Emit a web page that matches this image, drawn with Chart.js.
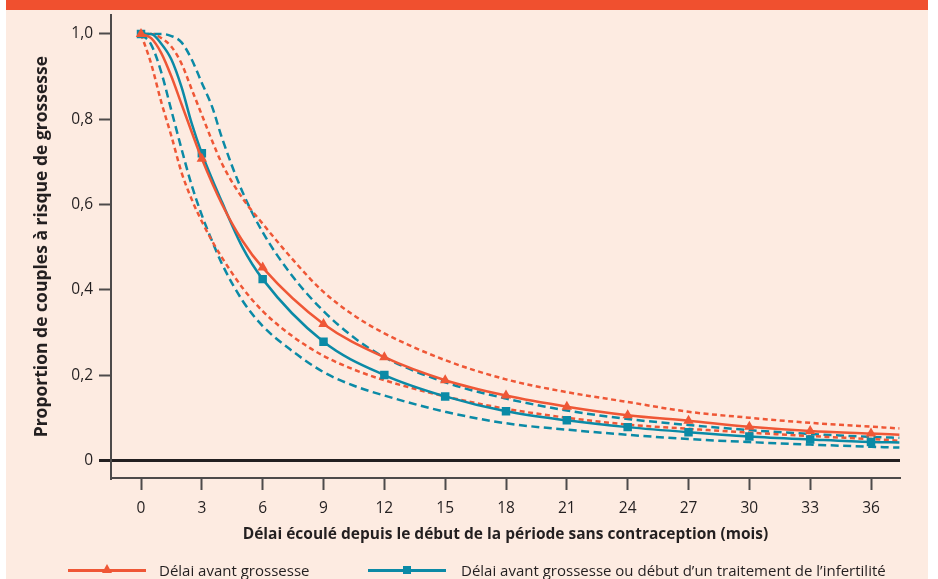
<!DOCTYPE html>
<html lang="fr">
<head>
<meta charset="utf-8">
<script src="https://cdn.jsdelivr.net/npm/chart.js@4.4.0/dist/chart.umd.min.js"></script>
<style>
  html, body { margin: 0; padding: 0; background: #fff; }
  #wrap { position: relative; width: 938px; height: 579px; overflow: hidden; }
  #panel { position: absolute; left: 6px; top: 0; width: 922px; height: 579px; background: #fdebe1; }
  #band { position: absolute; left: 6px; top: 0; width: 922px; height: 10px; background: #f0502f; }
  #chart { position: absolute; left: 0; top: 0; }
  .lg-line { position: absolute; height: 3px; }
  .lg-tri { position: absolute; width: 0; height: 0; border-left: 5px solid transparent; border-right: 5px solid transparent; border-bottom: 9px solid #ef5736; }
  .lg-sq { position: absolute; width: 8px; height: 8px; background: #0b8aa6; }
  .lg-text { position: absolute; top: 560px; line-height: 20px; font: 15px "Open Sans", sans-serif; color: #231f20; white-space: nowrap; }
</style>
</head>
<body>
<div id="wrap">
  <div id="panel"></div>
  <div id="band"></div>
  <canvas id="chart" width="938" height="579"></canvas>
  <div class="lg-line" style="left:68px;top:569px;width:78px;background:#ef5736"></div>
  <div class="lg-tri" style="left:102px;top:564px"></div>
  <div class="lg-text" style="left:159px">Délai avant grossesse</div>
  <div class="lg-line" style="left:368px;top:569px;width:78px;background:#0b8aa6"></div>
  <div class="lg-sq" style="left:403px;top:566px"></div>
  <div class="lg-text" style="left:461px">Délai avant grossesse ou début d’un traitement de l’infertilité</div>
</div>
<script>
const RED = '#ef5736';
const BLUE = '#0b8aa6';
const INK = '#231f20';
const AXIS = '#4d4a4a';
const FONT = '"Open Sans", sans-serif';

// axes
const monthTicks = [0, 3, 6, 9, 12, 15, 18, 21, 24, 27, 30, 33, 36];
const valueTicks = [0, 0.2, 0.4, 0.6, 0.8, 1.0];
const valueLabels = ['0', '0,2', '0,4', '0,6', '0,8', '1,0'];

// solid curves (markers every 3 months)
const solidMonths = [0, 0.5, 1, 1.5, 2, 2.5, 3, 4, 5, 6, 9, 12, 15, 18, 21, 24, 27, 30, 33, 36, 37.4];
const pregnancy = [1, 0.99, 0.955, 0.9, 0.835, 0.77, 0.707, 0.6, 0.515, 0.452, 0.32, 0.242, 0.188, 0.152, 0.126, 0.106, 0.093, 0.079, 0.069, 0.063, 0.06];
const treatment = [1, 1, 0.977, 0.94, 0.875, 0.79, 0.72, 0.605, 0.5, 0.425, 0.278, 0.2, 0.15, 0.115, 0.094, 0.078, 0.066, 0.056, 0.049, 0.043, 0.042];

// dashed confidence bounds
const bandMonths = [0, 0.5, 1, 1.5, 2, 2.5, 3, 3.5, 4, 5, 6, 7.5, 9, 10.5, 12, 15, 18, 21, 24, 27, 30, 33, 36, 37.4];
const pregnancyHigh = [1, 1, 0.99, 0.97, 0.93, 0.87, 0.81, 0.75, 0.695, 0.615, 0.555, 0.47, 0.395, 0.34, 0.298, 0.235, 0.19, 0.16, 0.137, 0.114, 0.1, 0.088, 0.079, 0.075];
const pregnancyLow = [1, 0.93, 0.84, 0.76, 0.675, 0.612, 0.56, 0.515, 0.475, 0.405, 0.35, 0.29, 0.245, 0.213, 0.188, 0.15, 0.121, 0.1, 0.084, 0.074, 0.065, 0.057, 0.05, 0.046];
const treatmentHigh = [1, 1, 1, 0.995, 0.98, 0.94, 0.885, 0.83, 0.755, 0.63, 0.535, 0.43, 0.35, 0.288, 0.242, 0.183, 0.145, 0.117, 0.097, 0.083, 0.071, 0.062, 0.055, 0.053];
const treatmentLow = [1, 0.975, 0.91, 0.82, 0.73, 0.645, 0.575, 0.515, 0.46, 0.375, 0.315, 0.255, 0.207, 0.175, 0.152, 0.114, 0.087, 0.072, 0.06, 0.05, 0.043, 0.037, 0.032, 0.03];

function pts(months, values) {
    return months.map((m, i) => ({x: m, y: values[i]}));
}
const markerRadius = ctx => (ctx.raw && monthTicks.includes(ctx.raw.x)) ? 6 : 0;
const isZero = c => c.tick && c.tick.value === 0;

function dashed(data, color, dash) {
    return {
        data: data,
        borderColor: color,
        borderWidth: 2.5,
        borderDash: dash,
        pointRadius: 0,
        fill: false,
        cubicInterpolationMode: 'monotone'
    };
}

new Chart(document.getElementById('chart'), {
    type: 'line',
    data: {
        datasets: [
            {
                label: 'Délai avant grossesse',
                data: pts(solidMonths, pregnancy),
                borderColor: RED,
                borderWidth: 2.5,
                pointStyle: 'triangle',
                pointRadius: markerRadius,
                pointBackgroundColor: RED,
                pointBorderWidth: 0,
                fill: false,
                cubicInterpolationMode: 'monotone'
            },
            {
                label: 'Délai avant grossesse ou début d’un traitement de l’infertilité',
                data: pts(solidMonths, treatment),
                borderColor: BLUE,
                borderWidth: 2.5,
                pointStyle: 'rect',
                pointRadius: markerRadius,
                pointBackgroundColor: BLUE,
                pointBorderWidth: 0,
                fill: false,
                cubicInterpolationMode: 'monotone'
            },
            dashed(pts(bandMonths, pregnancyHigh), RED, [5, 3.5]),
            dashed(pts(bandMonths, pregnancyLow), RED, [5, 3.5]),
            dashed(pts(bandMonths, treatmentHigh), BLUE, [8, 4.5]),
            dashed(pts(bandMonths, treatmentLow), BLUE, [8, 4.5])
        ]
    },
    options: {
        responsive: false,
        animation: false,
        events: [],
        layout: { padding: { top: 13, right: 38, left: 0, bottom: 0 } },
        plugins: { legend: { display: false }, tooltip: { enabled: false } },
        scales: {
            x: {
                type: 'linear',
                min: -1.48,
                max: 37.43,
                afterBuildTicks: s => { s.ticks = monthTicks.map(v => ({value: v})); },
                afterFit: s => { s.height = 101; },
                ticks: { font: { family: FONT, size: 15.5 }, color: INK, padding: 9, maxRotation: 0, autoSkip: false,
                         callback: v => String(v) },
                grid: { drawOnChartArea: false, drawTicks: true, tickLength: 12, tickColor: AXIS, tickWidth: 2 },
                border: { display: true, color: AXIS, width: 2 },
                title: { display: true, text: 'Délai écoulé depuis le début de la période sans contraception (mois)',
                         font: { family: FONT, size: 15.5, weight: 'bold' }, color: INK, padding: { top: 0, bottom: 35 } }
            },
            y: {
                type: 'linear',
                min: -0.0413,
                max: 1.0436,
                afterBuildTicks: s => { s.ticks = valueTicks.map(v => ({value: v})); },
                afterFit: s => { s.width = 111; },
                ticks: { font: { family: FONT, size: 15.5 }, color: INK, padding: 6, autoSkip: false,
                         callback: (v, i) => valueLabels[i] },
                grid: {
                    drawOnChartArea: true,
                    color: c => isZero(c) ? INK : 'rgba(0,0,0,0)',
                    lineWidth: c => isZero(c) ? 3 : 1,
                    tickLength: 12,
                    tickColor: c => isZero(c) ? INK : AXIS,
                    tickWidth: c => isZero(c) ? 3 : 2
                },
                border: { display: true, color: AXIS, width: 2 },
                title: { display: true, text: 'Proportion de couples à risque de grossesse',
                         font: { family: FONT, size: 17.5, weight: 'bold' }, color: INK, padding: { top: 31.5, bottom: 0 } }
            }
        }
    }
});
</script>
</body>
</html>
